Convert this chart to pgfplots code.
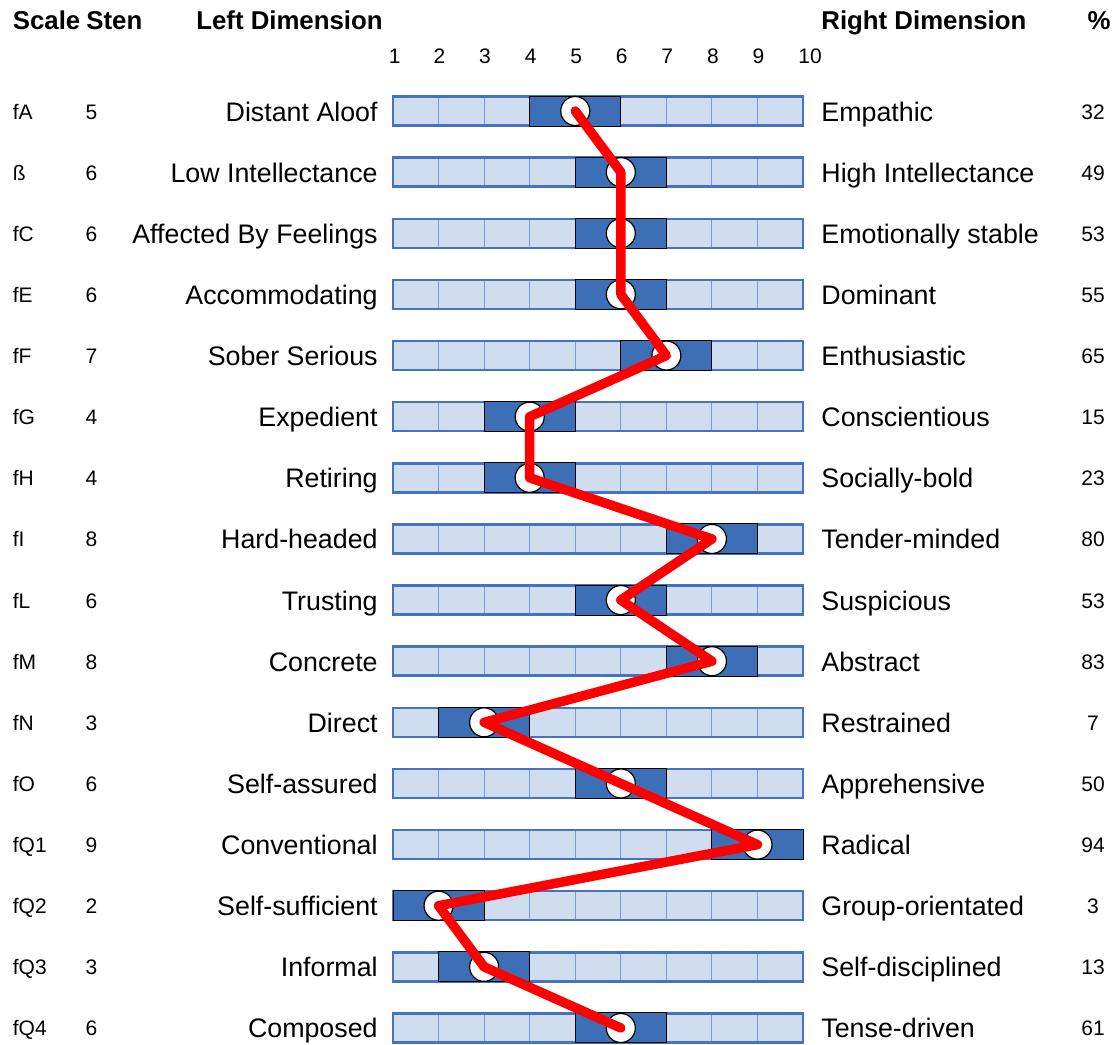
\documentclass[border=0pt]{standalone}
\usepackage{fontspec}
\setmainfont{Liberation Sans}
\usepackage{pgfplots}
\usepackage{pgfplotstable}
\pgfplotsset{compat=1.18}

\definecolor{barlight}{HTML}{CFDDEE}
\definecolor{barline}{HTML}{4472C4}
\definecolor{cellline}{HTML}{7A9CD6}
\definecolor{bardark}{HTML}{3D6FB6}

\tikzset{
  small/.style={font=\fontsize{10.5}{12}\selectfont},
  big/.style={font=\fontsize{13.4}{16}\selectfont},
  head/.style={font=\fontsize{12.9}{15}\selectfont\bfseries, inner sep=0pt},
}

% one x unit = 22.78pt (45.56 px), rows are 61.13 px apart
\pgfdeclareplotmark{stenbar}{%
  \pgfsetlinewidth{0.5pt}%
  \pgfsetfillcolor{barlight}%
  \pgfsetstrokecolor{cellline}%
  \pgfpathrectangle{\pgfpoint{-102.51pt}{-7.25pt}}{\pgfpoint{205.02pt}{14.5pt}}%
  \pgfusepathqfill
  \pgfplotsforeachungrouped \k in {1,...,8}{%
    \pgfpathmoveto{\pgfpoint{-102.51pt+\k*22.78pt}{-7.25pt}}%
    \pgfpathlineto{\pgfpoint{-102.51pt+\k*22.78pt}{7.25pt}}%
  }%
  \pgfusepathqstroke
  \pgfsetlinewidth{1.25pt}%
  \pgfsetstrokecolor{barline}%
  \pgfpathrectangle{\pgfpoint{-102.51pt}{-7.25pt}}{\pgfpoint{205.02pt}{14.5pt}}%
  \pgfusepathqstroke
}
\pgfdeclareplotmark{stencell}{%
  \pgfsetlinewidth{0.5pt}%
  \pgfsetfillcolor{bardark}%
  \pgfsetstrokecolor{black}%
  \pgfpathrectangle{\pgfpoint{-22.78pt}{-7.5pt}}{\pgfpoint{45.56pt}{15pt}}%
  \pgfusepathqfillstroke
}

\pgfplotstableread[col sep=comma]{
row,sten,pct,scale,left,right
1,5,32,fA,Distant Aloof,Empathic
2,6,49,ß,Low Intellectance,High Intellectance
3,6,53,fC,Affected By Feelings,Emotionally stable
4,6,55,fE,Accommodating,Dominant
5,7,65,fF,Sober Serious,Enthusiastic
6,4,15,fG,Expedient,Conscientious
7,4,23,fH,Retiring,Socially-bold
8,8,80,fI,Hard-headed,Tender-minded
9,6,53,fL,Trusting,Suspicious
10,8,83,fM,Concrete,Abstract
11,3,7,fN,Direct,Restrained
12,6,50,fO,Self-assured,Apprehensive
13,9,94,fQ1,Conventional,Radical
14,2,3,fQ2,Self-sufficient,Group-orientated
15,3,13,fQ3,Informal,Self-disciplined
16,6,61,fQ4,Composed,Tense-driven
}\profile

\begin{document}
\begin{tikzpicture}
\begin{axis}[
    scale only axis,
    width=556.5pt, height=522pt,
    xmin=-7.626, xmax=16.803,
    ymin=-0.8158, ymax=16.262,
    y dir=reverse,
    hide axis,
    clip=false,
    clip mode=individual,
    point meta=explicit symbolic,
]
\path (rel axis cs:0,0) rectangle (rel axis cs:1,1);

% background bars and the two-cell band round each sten
\addplot[only marks, mark=stenbar] table[x expr=5.5, y=row] {\profile};
\addplot[only marks, mark=stencell] table[x=sten, y=row] {\profile};
\addplot[only marks, mark=*, mark size=7.25pt,
  mark options={fill=white, draw=black, line width=0.6pt}]
  table[x=sten, y=row] {\profile};
\addplot[red, line width=4.75pt, line cap=round, line join=round, mark=none]
  table[x=sten, y=row] {\profile};

% row texts
\addplot[only marks, mark=none, nodes near coords,
  nodes near coords align={anchor=base west, yshift=-4pt, inner sep=0pt, small}]
  table[x expr=-7.352, y=row, meta=scale] {\profile};
\addplot[only marks, mark=none, nodes near coords,
  nodes near coords align={anchor=base, yshift=-4pt, inner sep=0pt, small}]
  table[x expr=-5.618, y=row, meta=sten] {\profile};
\addplot[only marks, mark=none, nodes near coords,
  nodes near coords align={anchor=base east, yshift=-5pt, inner sep=0pt, big}]
  table[x expr=0.671, y=row, meta=left] {\profile};
\addplot[only marks, mark=none, nodes near coords,
  nodes near coords align={anchor=base west, yshift=-5pt, inner sep=0pt, big}]
  table[x expr=10.394, y=row, meta=right] {\profile};
\addplot[only marks, mark=none, nodes near coords,
  nodes near coords align={anchor=base, yshift=-4pt, inner sep=0pt, small}]
  table[x expr=16.364, y=row, meta=pct] {\profile};

% scale numbers above the bars
\addplot[only marks, mark=none, nodes near coords,
  nodes near coords align={anchor=base, inner sep=0pt, small}]
  coordinates {(1.04,0.215)[1] (2.02,0.215)[2] (3.02,0.215)[3] (4.02,0.215)[4]
    (5.02,0.215)[5] (6.02,0.215)[6] (7.02,0.215)[7] (8.02,0.215)[8]
    (9.02,0.215)[9] (10.153,0.215)[10]};

% column headings
\node[head, anchor=base west] at (axis cs:-7.352,-0.341) {Scale};
\node[head, anchor=base west] at (axis cs:-5.738,-0.341) {Sten};
\node[head, anchor=base west] at (axis cs:-3.326,-0.341) {Left Dimension};
\node[head, anchor=base west] at (axis cs:10.394,-0.341) {Right Dimension};
\node[head, anchor=base] at (axis cs:16.50,-0.341) {\%};
\end{axis}
\end{tikzpicture}
\end{document}
